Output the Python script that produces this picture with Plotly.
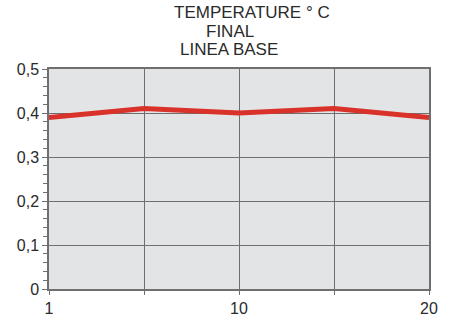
import plotly.graph_objects as go

x_pos = [0, 1, 2, 3, 4]
values = [0.39, 0.41, 0.40, 0.41, 0.39]
x_tick_text = ["1", "", "10", "", "20"]
y_ticks = [0, 0.1, 0.2, 0.3, 0.4, 0.5]
y_tick_text = ["0", "0,1", "0,2", "0,3", "0,4", "0,5"]
title_lines = ["TEMPERATURE ° C", "FINAL", "LINEA BASE"]

W, H = 457, 316
L, R, T, B = 49, 28, 69, 27

fig = go.Figure()
fig.add_trace(go.Scatter(x=x_pos, y=values, mode="lines",
                         line=dict(color="#d8322a", width=5), showlegend=False))

grid = "#6f6f6f"
fig.update_layout(
    width=W, height=H,
    margin=dict(l=L, r=R, t=T, b=B, autoexpand=False),
    paper_bgcolor="white", plot_bgcolor="#e3e4e6",
    font=dict(family="Liberation Sans, Arial, sans-serif", size=16, color="#2a2a2a"),
    xaxis=dict(range=[0, 4], tickvals=x_pos, ticktext=x_tick_text, automargin=False,
               showgrid=True, gridcolor=grid, gridwidth=1,
               showline=True, linecolor=grid, linewidth=1.5, mirror=True,
               ticks="outside", ticklen=4, tickcolor=grid, zeroline=False,
               tickfont=dict(size=16)),
    yaxis=dict(range=[0, 0.5], tickvals=y_ticks, ticktext=y_tick_text, automargin=False,
               showgrid=True, gridcolor=grid, gridwidth=1,
               showline=True, linecolor=grid, linewidth=1.5, mirror=True,
               ticks="outside", ticklen=5, tickcolor=grid, zeroline=False,
               minor=dict(dtick=0.02, ticks="outside", ticklen=4, tickcolor=grid, showgrid=False),
               tickfont=dict(size=16)),
)

centers = [252, 230, 229]
ys = [12, 31, 49]
for t, cx, cy in zip(title_lines, centers, ys):
    fig.add_annotation(text=t,
                       x=(cx - L) / (W - L - R), y=(H - B - cy) / (H - T - B),
                       xref="paper", yref="paper",
                       showarrow=False, xanchor="center", yanchor="middle",
                       font=dict(size=17, color="#2a2a2a"))

fig.write_html("out.html", config={"displayModeBar": False},
               post_script="document.body.style.margin='0';document.body.style.overflow='hidden';")
